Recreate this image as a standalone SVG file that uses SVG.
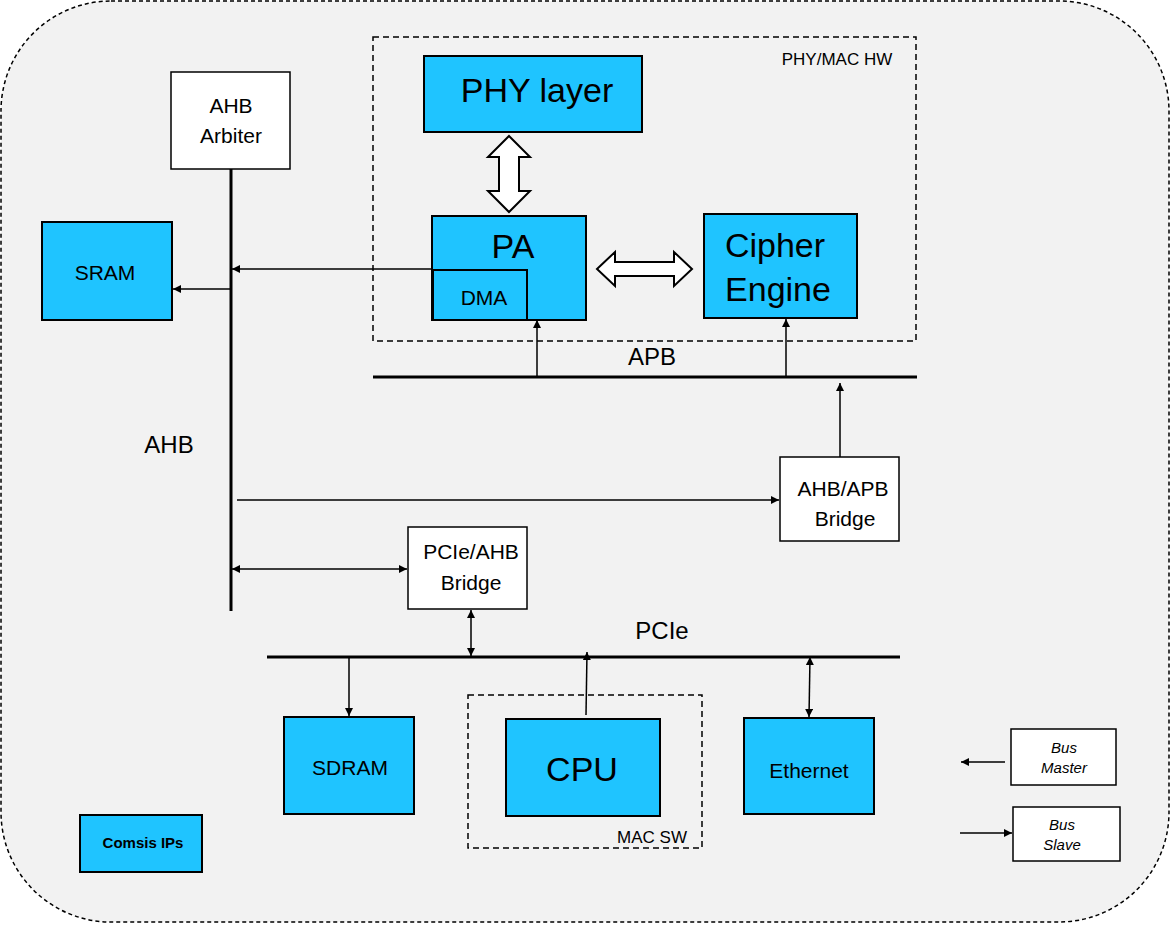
<svg xmlns="http://www.w3.org/2000/svg" width="1171" height="925" viewBox="0 0 1171 925">
<style>
text{font-family:"Liberation Sans",Arial,sans-serif;fill:#000;text-anchor:middle}
.b{fill:#1fc4ff;stroke:#000;stroke-width:2}
.w{fill:#fff;stroke:#000;stroke-width:1.5}
.d{fill:none;stroke:#000;stroke-width:1.5;stroke-dasharray:6,4}
.l{stroke:#000;stroke-width:1.5;fill:none}
.bus{stroke:#000;stroke-width:3}
.fa{fill:#fff;stroke:#000;stroke-width:2}
</style>
<defs>
<marker id="a" viewBox="0 0 10 10" refX="10" refY="5" markerWidth="8" markerHeight="8" markerUnits="userSpaceOnUse" orient="auto-start-reverse"><path d="M0,0L10,5L0,10z" fill="#000"/></marker>
</defs>
<rect x="1" y="1" width="1168" height="921" rx="110" fill="#f2f2f2" stroke="#000" stroke-width="1.5" stroke-dasharray="4,3"/>
<g id="phymac"><rect class="d" x="373" y="37" width="543" height="304"/><text x="837" y="65" font-size="17">PHY/MAC  HW</text></g>
<g id="macsw"><rect class="d" x="468" y="695" width="234" height="153"/><text x="652" y="843" font-size="17">MAC  SW</text></g>
<g id="phy"><rect class="b" x="424" y="56" width="218" height="76"/><text x="537" y="102" font-size="34">PHY layer</text></g>
<g id="pa"><rect class="b" x="432" y="216" width="154" height="104"/><text x="513" y="258" font-size="34">PA</text></g>
<g id="dma"><rect class="b" x="433" y="270" width="94" height="50"/><text x="484" y="305" font-size="21">DMA</text></g>
<g id="cipher"><rect class="b" x="704" y="214" width="153" height="104"/><text x="775" y="257" font-size="34">Cipher</text><text x="778" y="301" font-size="34">Engine</text></g>
<g id="arbiter"><rect class="w" x="171" y="72" width="119" height="97"/><text x="231" y="113" font-size="21">AHB</text><text x="231" y="143" font-size="21">Arbiter</text></g>
<g id="sram"><rect class="b" x="42" y="222" width="130" height="98"/><text x="105" y="280" font-size="21">SRAM</text></g>
<g id="ahbapb"><rect class="w" x="780" y="457" width="119" height="84"/><text x="843" y="496" font-size="21">AHB/APB</text><text x="845" y="526" font-size="21">Bridge</text></g>
<g id="pcieahb"><rect class="w" x="408" y="527" width="119" height="82"/><text x="471" y="559" font-size="21">PCIe/AHB</text><text x="471" y="590" font-size="21">Bridge</text></g>
<g id="sdram"><rect class="b" x="284" y="717" width="130" height="97"/><text x="350" y="775" font-size="21">SDRAM</text></g>
<g id="cpu"><rect class="b" x="506" y="719" width="154" height="97"/><text x="582" y="781" font-size="34">CPU</text></g>
<g id="ethernet"><rect class="b" x="744" y="718" width="130" height="96"/><text x="809" y="778" font-size="21">Ethernet</text></g>
<g id="comsis"><rect class="b" x="80" y="815" width="122" height="57"/><text x="143" y="848" font-size="15" font-weight="bold">Comsis  IPs</text></g>
<g id="master"><rect class="w" x="1011" y="729" width="105" height="56"/><text x="1064" y="753" font-size="15" font-style="italic">Bus</text><text x="1064" y="773" font-size="15" font-style="italic">Master</text></g>
<g id="slave"><rect class="w" x="1013" y="807" width="107" height="54"/><text x="1062" y="830" font-size="15" font-style="italic">Bus</text><text x="1062" y="850" font-size="15" font-style="italic">Slave</text></g>
<g id="labels">
<text x="169" y="453" font-size="24">AHB</text>
<text x="652" y="365" font-size="24">APB</text>
<text x="662" y="639" font-size="24">PCIe</text>
</g>
<g id="connectors">
<line class="bus" x1="231" y1="169" x2="231" y2="611"/>
<line class="bus" x1="373" y1="377" x2="917" y2="377"/>
<line class="bus" x1="267" y1="657" x2="900" y2="657"/>
<path class="fa" d="M509,136 L530,157 L519,157 L519,191 L530,191 L509,212 L488,191 L499,191 L499,157 L488,157 Z"/>
<path class="fa" d="M597,269 L615,252 L615,262 L674,262 L674,252 L692,269 L674,286 L674,276 L615,276 L615,286 Z"/>
<line class="l" x1="433" y1="269" x2="232" y2="269" marker-end="url(#a)"/>
<line class="l" x1="231" y1="289" x2="173" y2="289" marker-end="url(#a)"/>
<line class="l" x1="537" y1="377" x2="537" y2="320" marker-end="url(#a)"/>
<line class="l" x1="786" y1="377" x2="786" y2="319" marker-end="url(#a)"/>
<line class="l" x1="840" y1="457" x2="840" y2="383" marker-end="url(#a)"/>
<line class="l" x1="237" y1="500" x2="779" y2="500" marker-end="url(#a)"/>
<line class="l" x1="232" y1="569" x2="407" y2="569" marker-start="url(#a)" marker-end="url(#a)"/>
<line class="l" x1="471" y1="610" x2="471" y2="656" marker-start="url(#a)" marker-end="url(#a)"/>
<line class="l" x1="349" y1="657" x2="349" y2="716" marker-end="url(#a)"/>
<line class="l" x1="586" y1="715" x2="587" y2="652" marker-end="url(#a)"/>
<line class="l" x1="809" y1="717" x2="810" y2="657" marker-start="url(#a)" marker-end="url(#a)"/>
<line class="l" x1="1005" y1="762" x2="961" y2="762" marker-end="url(#a)"/>
<line class="l" x1="960" y1="833" x2="1012" y2="833" marker-end="url(#a)"/>
</g>
</svg>
